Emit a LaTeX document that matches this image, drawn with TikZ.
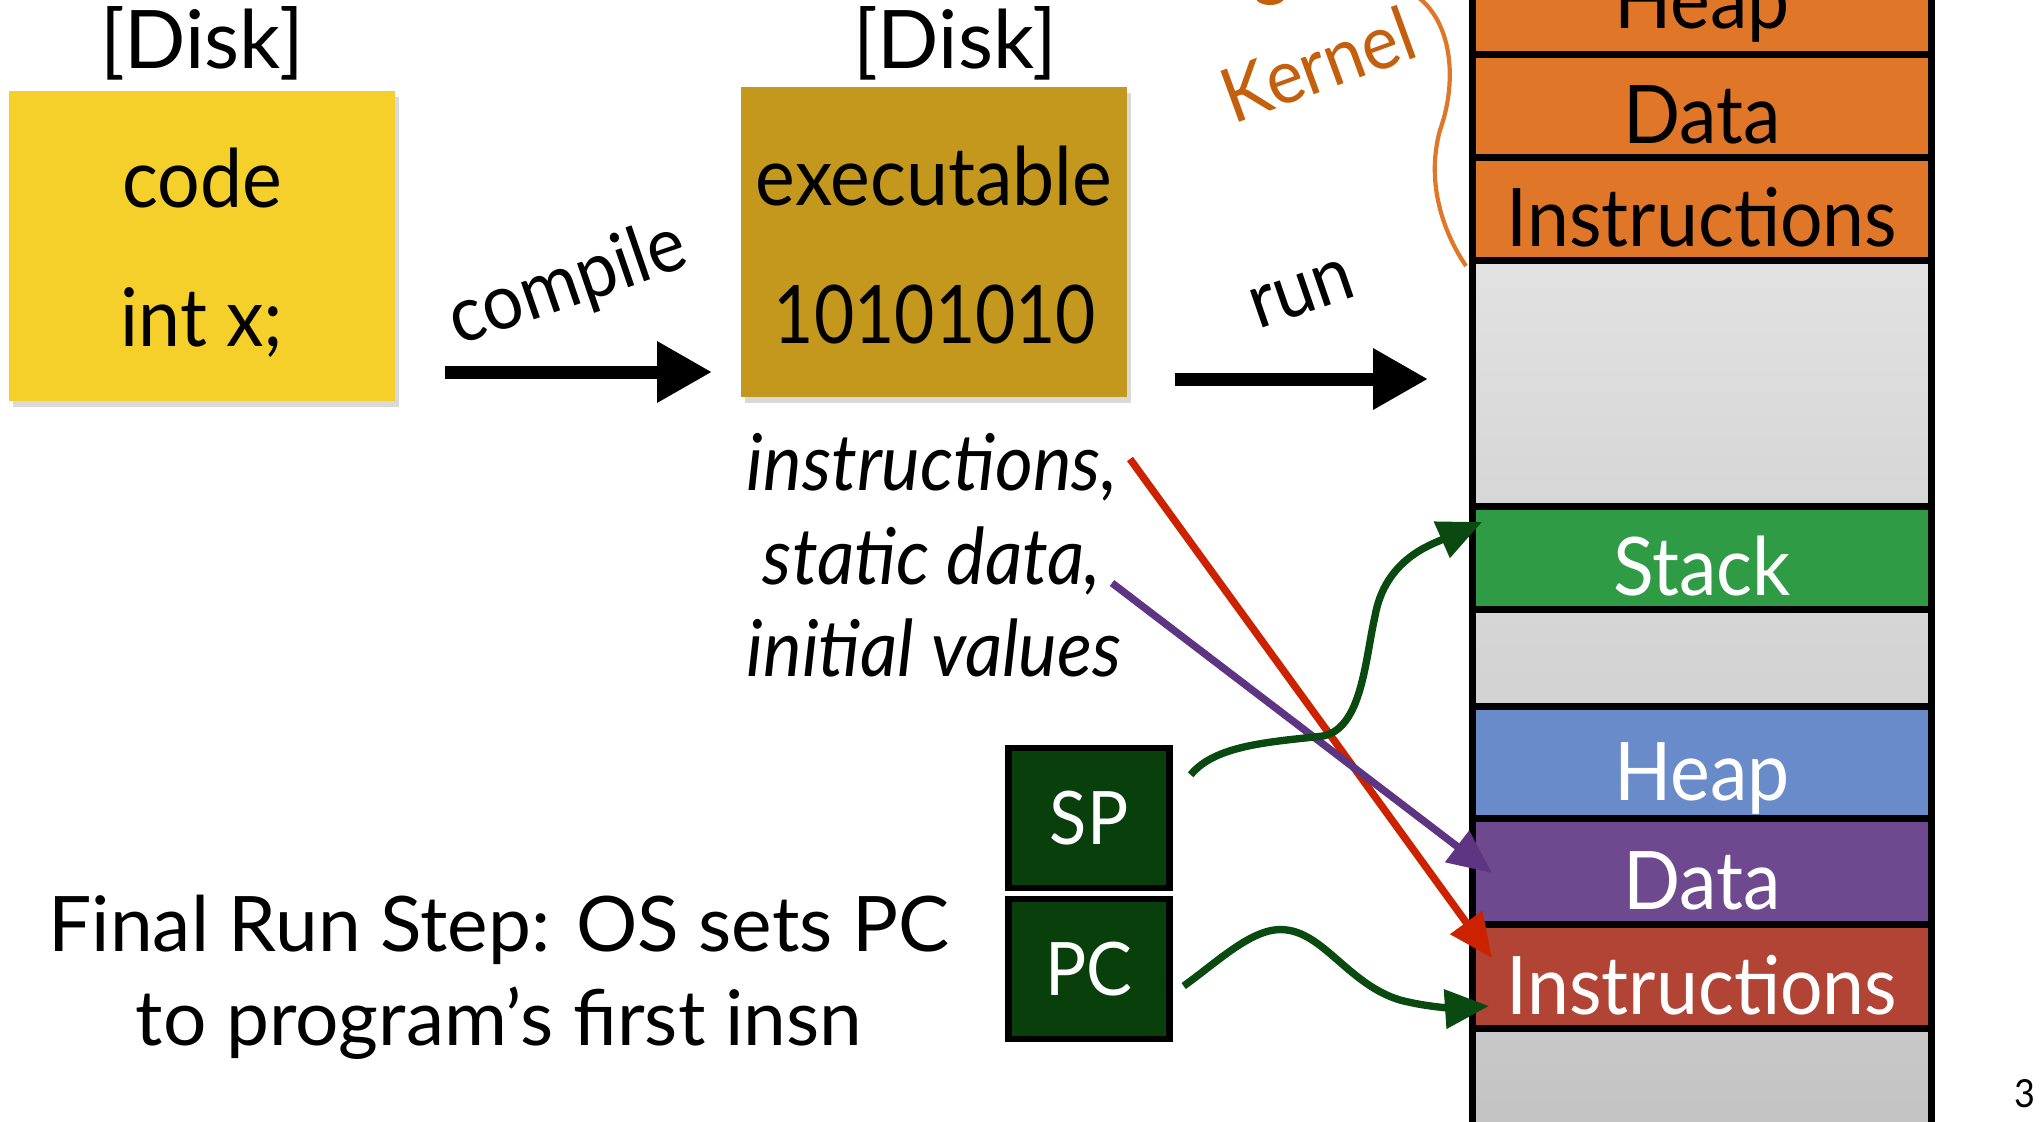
\documentclass[tikz,border=0pt]{standalone}
\usepackage{fontspec}
\setmainfont{Lato}[FakeStretch=0.93]
\newfontfamily\widefont{Lato}
\newfontfamily\binfont{Lato}[FakeStretch=0.86]
\usetikzlibrary{arrows.meta,calc,shadows}

\definecolor{codeyellow}{HTML}{F5D02A}
\definecolor{exegold}{HTML}{C4971D}
\definecolor{kernfill}{HTML}{E07628}
\definecolor{kerntext}{HTML}{C45F0E}
\definecolor{stackgreen}{HTML}{2F9B45}
\definecolor{heapblue}{HTML}{6A8BC9}
\definecolor{datapurple}{HTML}{6E4990}
\definecolor{instrred}{HTML}{B14434}
\definecolor{regfill}{HTML}{083F0B}
\definecolor{arrowred}{HTML}{CC2200}
\definecolor{arrowpurple}{HTML}{5E3582}
\definecolor{arrowgreen}{HTML}{0A4A10}
\definecolor{freeA}{HTML}{E2E2E2}
\definecolor{freeB}{HTML}{D6D6D6}
\definecolor{freeC}{HTML}{D2D2D2}
\definecolor{freeD}{HTML}{C8C8C8}
\definecolor{freeE}{HTML}{C2C2C2}

\tikzset{
  bigtext/.style={font=\fontsize{23}{27}\selectfont},
  filebox/.style={minimum width=38.6mm, minimum height=31mm, inner sep=0pt,
    drop shadow={shadow xshift=0.4mm, shadow yshift=-0.6mm, opacity=0.3}},
  seg/.style={draw=black, line width=2pt, minimum width=45.9mm, inner sep=0pt,
    anchor=north, text height=21.5pt, text depth=0pt,
    font=\fontsize{23}{27}\selectfont},
  freeseg/.style 2 args={seg, top color=#1, bottom color=#2},
  reg/.style={draw=black, line width=1.8pt, fill=regfill, minimum width=16.1mm,
    minimum height=14mm, text=white, font=\fontsize{21}{25}\selectfont},
  bigarrow/.style={line width=3.7pt, -{Triangle[length=5.5mm, width=5.8mm]}},
  thinarrow/.style={line width=2.1pt, -{Triangle[length=4.4mm, width=3.8mm]}},
  itlabel/.style={font=\fontsize{22.3}{26}\selectfont\itshape},
}

\begin{document}
\begin{tikzpicture}[x=0.1mm, y=-0.1mm]
\useasboundingbox (0,0) rectangle (2042,1121);

% files on disk
\node[font=\fontsize{23}{27}\selectfont\widefont] (disk1) at (202,43) {[Disk]};
\node[filebox, fill=codeyellow] (codebox) at (202,246) {};
\node[bigtext] (codetxt) at (202,178) {code};
\node[bigtext] (decltxt) at (202,322) {int x;};

\node[font=\fontsize{23}{27}\selectfont\widefont] (disk2) at (955,43) {[Disk]};
\node[filebox, fill=exegold] (exebox) at (934,242) {};
\node[bigtext] (exetxt) at (934,176) {executable};
\node[font=\fontsize{23}{27}\selectfont\binfont] (bintxt) at (935,315) {10101010};

% compile and run steps
\coordinate (cstart) at (445,372);
\coordinate (cend) at (712,372);
\draw[bigarrow] (cstart) -- (cend);
\node[font=\fontsize{22}{26}\selectfont, rotate=19] (compiletxt) at (568,285) {compile};

\coordinate (rstart) at (1175,379);
\coordinate (rend) at (1428,379);
\draw[bigarrow] (rstart) -- (rend);
\node[font=\fontsize{22}{26}\selectfont, rotate=19] (runtxt) at (1302,294) {run};

% contents of the executable
\node[itlabel] (lab1) at (932,467) {instructions,};
\node[itlabel] (lab2) at (932,561) {static data,};
\node[itlabel] (lab3) at (934,648) {initial values};

% address space column
\node[seg, fill=kernfill, minimum height=12.8mm] (heapK) at (1702,-77) {Heap};
\node[seg, fill=kernfill, minimum height=10.3mm] (dataK) at (1702,51) {Data};
\node[seg, fill=kernfill, minimum height=10.3mm] (instrK) at (1702,154) {Instructions};
\node[freeseg={freeA}{freeB}, minimum height=24.6mm] (free1) at (1702,257) {};
\node[seg, fill=stackgreen, text=white, minimum height=10.3mm] (stack) at (1702,503) {Stack};
\node[freeseg={freeB}{freeC}, minimum height=9.7mm] (free2) at (1702,606) {};
\node[seg, fill=heapblue, text=white, minimum height=11.2mm] (heapU) at (1702,703) {Heap};
\node[seg, fill=datapurple, text=white, minimum height=10.6mm] (dataU) at (1702,815) {Data};
\node[seg, fill=instrred, text=white, minimum height=10.4mm] (instrU) at (1702,921) {Instructions};
\node[freeseg={freeD}{freeE}, minimum height=12mm] (free3) at (1702,1025) {};

% kernel region marker
\fill[kerntext] (1270,-2) ellipse (14 and 7);
\node[text=kerntext, rotate=20, font=\fontsize{21.5}{26}\selectfont] (kerntxt) at (1318,64) {Kernel};
\draw[kernfill, line width=1.2pt] (1415,-5) .. controls (1452,20) and (1458,80) .. (1440,130)
  .. controls (1425,185) and (1445,235) .. (1466,266);

% registers
\node[reg] (sp) at (1089,818) {SP};
\node[reg] (pc) at (1089,969) {PC};

\node[align=center, font=\fontsize{21.8}{26.7}\selectfont\widefont] (finaltxt) at (499,977)
  {Final Run Step: OS sets PC\\to program’s first insn};

% loading arrows
\coordinate (redstart) at (1130,459);
\coordinate (purplestart) at (1112,583);
\draw[thinarrow, arrowred] (redstart) -- ($(instrU.north west)+(23,37)$);
\draw[thinarrow, arrowpurple] (purplestart) -- ($(dataU.north west)+(23,58)$);

\draw[thinarrow, arrowgreen] ($(sp.north east)+(18,30)$)
  .. controls (1215,745) and (1270,742) .. (1323,736)
  .. controls (1362,728) and (1365,660) .. (1375,616)
  .. controls (1385,560) and (1430,545) .. ($(stack.north west)+(13,19)$);

\draw[thinarrow, arrowgreen] ($(pc.east)+(11,17)$)
  .. controls (1220,960) and (1255,925) .. (1287,930)
  .. controls (1325,935) and (1350,985) .. (1400,1000)
  .. controls (1430,1008) and (1460,1008) .. ($(instrU.north west)+(20,85)$);

\node[font=\fontsize{11}{13}\selectfont] (pnum) at (2025,1094) {3};
\end{tikzpicture}
\end{document}
